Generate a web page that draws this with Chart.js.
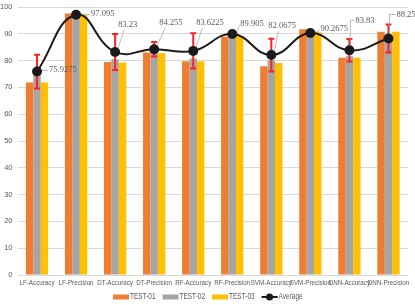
<!DOCTYPE html>
<html><head><meta charset="utf-8">
<script src="https://cdn.jsdelivr.net/npm/chart.js@4/dist/chart.umd.min.js"></script>
<style>html,body{margin:0;padding:0;background:#fff}#wrap{width:415px;height:305px;position:relative}</style>
</head><body><div id="wrap"><canvas id="c"></canvas></div>
<script>
const categories = ['LF-Accuracy','LF-Precision','DT-Accuracy','DT-Precision','RF-Accuracy','RF-Precision','SVM-Accuracy','SVM-Precision','DNN-Accuracy','DNN-Precision'];
const test01 = [71.8, 97.6, 79.5, 83.0, 79.8, 88.9, 77.9, 91.7, 81.1, 90.8];
const test02 = [75.5, 97.1, 80.5, 83.6, 80.8, 89.8, 80.1, 90.2, 81.6, 89.0];
const test03 = [71.8, 97.0, 79.3, 82.7, 79.8, 89.3, 79.1, 90.6, 81.1, 90.8];
const average = [75.9275, 97.095, 83.23, 84.255, 83.6225, 89.905, 82.0675, 90.2675, 83.83, 88.25];
const averageError = [6.3, 0, 6.7, 2.7, 6.6, 0, 6.1, 0, 4.2, 5.2];
const averageLabels = ['75.9275','97.095','83.23','84.255','83.6225','89.905','82.0675','90.2675','83.83','88.25'];
const seriesNames = ['TEST-01','TEST-02','TEST-03','Average'];
const yMin = 0, yMax = 100, yStep = 10;

const colors = ['#ED7D31','#A5A5A5','#FFC000'];
const sansFamily = "'Liberation Sans',Arial,sans-serif";
const tickFont = {family:sansFamily, size:7.5};
const narrow = 0.78;

// label placement (pixel offsets of text left-middle from the point, and leader style)
const labelPlacement = [
  {dx:12, dy:-2, hook:false}, {dx:15, dy:-1, hook:false}, {dx:3, dy:-27, hook:false},
  {dx:5, dy:-26, hook:false}, {dx:3, dy:-28, hook:false}, {dx:8, dy:-10, hook:false},
  {dx:-3, dy:-29, hook:false}, {dx:10, dy:-4, hook:false}, {dx:6, dy:-30, hook:true},
  {dx:8, dy:-24, hook:true}
];

const errorBarPlugin = {
  id:'errorBars',
  beforeDatasetDraw(chart,args){
    if(args.index!==3) return;
    const meta=chart.getDatasetMeta(3), y=chart.scales.y, ctx=chart.ctx;
    ctx.save();ctx.strokeStyle='#FF2020';ctx.lineWidth=2;
    meta.data.forEach((pt,i)=>{
      const e=averageError[i]; if(!e) return;
      const y1=y.getPixelForValue(average[i]+e), y2=y.getPixelForValue(average[i]-e);
      ctx.beginPath();ctx.moveTo(pt.x,y1);ctx.lineTo(pt.x,y2);
      ctx.moveTo(pt.x-3,y1);ctx.lineTo(pt.x+3,y1);
      ctx.moveTo(pt.x-3,y2);ctx.lineTo(pt.x+3,y2);ctx.stroke();
    });
    ctx.restore();
  }
};
function narrowText(ctx,text,x,y,align){
  ctx.save();ctx.translate(x,y);ctx.scale(narrow,1);ctx.textAlign=align;ctx.fillText(text,0,0);ctx.restore();
}
const labelPlugin = {
  id:'avgLabels',
  afterDatasetsDraw(chart){
    const meta=chart.getDatasetMeta(3), ctx=chart.ctx;
    ctx.save();
    ctx.font="8.5px 'Liberation Serif','Times New Roman',serif";
    ctx.textBaseline='middle';ctx.textAlign='left';
    meta.data.forEach((pt,i)=>{
      const p=labelPlacement[i]; const tx=pt.x+p.dx, ty=pt.y+p.dy;
      ctx.strokeStyle='#A6A6A6';ctx.lineWidth=0.75;ctx.beginPath();
      if(p.hook){ctx.moveTo(pt.x+1,pt.y-5);ctx.lineTo(pt.x+1,ty);ctx.lineTo(tx-1,ty);}
      else if(Math.abs(p.dy)<12){ctx.moveTo(pt.x+5,pt.y-1);ctx.lineTo(tx-1,ty+1);}
      else {ctx.moveTo(pt.x+3,pt.y-4);ctx.lineTo(tx+(p.dx<0?10:6),ty+5);}
      ctx.stroke();
      ctx.fillStyle='#595959';ctx.fillText(averageLabels[i],tx,ty);
    });
    ctx.restore();
  },
  afterDraw(chart){
    const ctx=chart.ctx, x=chart.scales.x, area=chart.chartArea;
    ctx.save();ctx.fillStyle='#595959';ctx.font="8px "+sansFamily;ctx.textBaseline='middle';
    categories.forEach((c,i)=>narrowText(ctx,c,x.getPixelForValue(i),area.bottom+8,'center'));
    // legend
    const ly=297; ctx.font="8.3px "+sansFamily;
    let cx=113;
    seriesNames.forEach((n,i)=>{
      if(i<3){ctx.fillStyle=colors[i];ctx.fillRect(cx,ly-2.5,16,5);}
      else{ctx.strokeStyle='#1a1a1a';ctx.lineWidth=2;ctx.beginPath();ctx.moveTo(cx,ly);ctx.lineTo(cx+16,ly);ctx.stroke();
        ctx.fillStyle='#1a1a1a';ctx.beginPath();ctx.arc(cx+8,ly,3.5,0,Math.PI*2);ctx.fill();}
      cx+=17;
      ctx.fillStyle='#595959';
      const w=ctx.measureText(n).width*narrow;
      narrowText(ctx,n,cx,ly,'left');
      cx+=w+7;
    });
    ctx.restore();
  }
};

new Chart(document.getElementById('c'),{
  data:{labels:categories,datasets:[
    {type:'bar',label:seriesNames[0],data:test01,backgroundColor:colors[0],order:1},
    {type:'bar',label:seriesNames[1],data:test02,backgroundColor:colors[1],order:1},
    {type:'bar',label:seriesNames[2],data:test03,backgroundColor:colors[2],order:1},
    {type:'line',label:seriesNames[3],data:average,borderColor:'#1a1a1a',backgroundColor:'#1a1a1a',borderWidth:2,tension:0.45,pointRadius:5,pointBackgroundColor:'#1a1a1a',pointBorderWidth:0,order:0}
  ]},
  options:{
    responsive:true,maintainAspectRatio:false,animation:false,
    datasets:{bar:{categoryPercentage:0.57,barPercentage:1.0}},
    layout:{padding:{left:0,right:7,top:7,bottom:7}},
    scales:{
      x:{grid:{display:false},border:{display:false},
         ticks:{font:tickFont,color:'rgba(0,0,0,0)',maxRotation:0,minRotation:0,autoSkip:false,padding:3,callback:()=>''}},
      y:{min:yMin,max:yMax,grid:{color:'#D9D9D9',drawTicks:false},border:{display:false},
         ticks:{stepSize:yStep,font:tickFont,color:'#595959',padding:5},
         afterFit(s){s.width=17.5;s.paddingTop=0;}}
    },
    plugins:{tooltip:{enabled:false},legend:{display:false}}
  },
  plugins:[errorBarPlugin,labelPlugin]
});
</script></body></html>
